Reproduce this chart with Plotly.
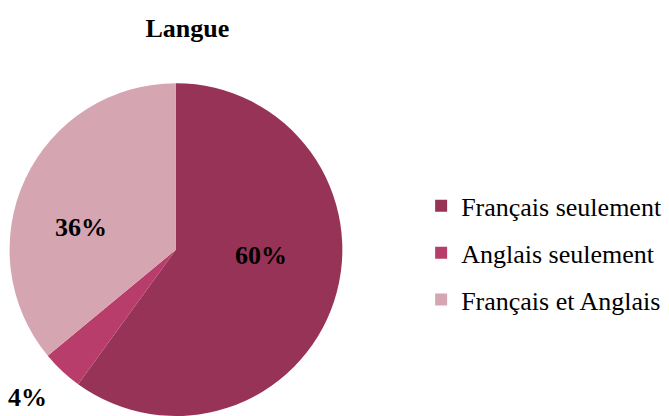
import math
import plotly.graph_objects as go

categories = ["Français seulement", "Anglais seulement", "Français et Anglais"]
values = [60, 4, 36]
colors = ["#963357", "#B93D6A", "#D5A6B1"]
# label placement: (distance in pie radii, angle in degrees clockwise from 12 o'clock)
label_place = [(0.51, 94), (1.26, 225), (0.585, 283)]

FONT = "Liberation Serif, Times New Roman, serif"
W, H = 669, 416
dom_x = [0.0135, 0.5125]
dom_y = [0.0, 0.80]

fig = go.Figure()
fig.add_trace(go.Pie(
    labels=categories, values=values, sort=False, direction="clockwise",
    rotation=0, marker=dict(colors=colors, line=dict(width=0)),
    textinfo="none",
    domain=dict(x=dom_x, y=dom_y),
    showlegend=False, hoverinfo="label+percent",
))

# percentage labels from the data
total = sum(values)
cx = (dom_x[0] + dom_x[1]) / 2 * W
cy = (dom_y[0] + dom_y[1]) / 2 * H
R = min((dom_x[1] - dom_x[0]) * W, (dom_y[1] - dom_y[0]) * H) / 2
for v, (f, ang) in zip(values, label_place):
    a = math.radians(ang)
    px = cx + f * R * math.sin(a)
    py = cy + f * R * math.cos(a)
    fig.add_annotation(
        x=px / W, y=py / H, xref="paper", yref="paper", showarrow=False,
        text=f"<b>{round(100 * v / total)}%</b>",
        font=dict(family=FONT, size=26, color="black"),
        xanchor="center", yanchor="middle",
    )

for i, (c, col) in enumerate(zip(categories, colors)):
    fig.add_trace(go.Scatter(
        x=[None], y=[None], mode="markers", name=c,
        marker=dict(symbol="square", size=12, color=col),
        legendgroup=f"g{i}", showlegend=True,
    ))

fig.update_layout(
    width=W, height=H, margin=dict(l=0, r=0, t=0, b=0),
    paper_bgcolor="white", plot_bgcolor="white",
    title=dict(text="<b>Langue</b>", x=0.28, xanchor="center", y=0.933, yanchor="middle",
               font=dict(family=FONT, size=26, color="black")),
    xaxis=dict(visible=False), yaxis=dict(visible=False),
    legend=dict(x=0.6295, xanchor="left", y=0.392, yanchor="middle",
                font=dict(family=FONT, size=26, color="black"),
                traceorder="grouped", tracegroupgap=10, itemsizing="constant",
                bgcolor="rgba(0,0,0,0)"),
)
fig.write_html("out.html", config={"displayModeBar": False},
               post_script="document.body.style.margin='0';")
